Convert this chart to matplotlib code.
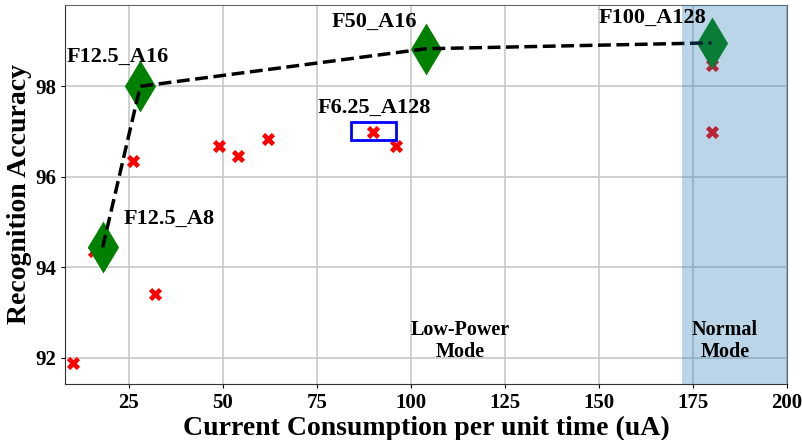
import matplotlib
matplotlib.use("Agg")
import matplotlib.pyplot as plt
from matplotlib.patches import Rectangle

plt.rcParams['font.family'] = ['Liberation Serif', 'DejaVu Serif']
plt.rcParams['font.weight'] = 'bold'

# all configurations (red crosses)
all_x = [10, 15.7, 32, 26, 49, 54, 62, 90, 96, 180, 180]
all_y = [91.88, 94.37, 93.41, 96.34, 96.68, 96.46, 96.83, 97.0, 96.68, 98.48, 97.0]

# pareto front (green diamonds)
best_x = [18, 28, 104, 180]
best_y = [94.44, 98.0, 98.83, 98.96]
best_names = ['F12.5_A8', 'F12.5_A16', 'F50_A16', 'F100_A128']
name_pos = [(23.7, 94.96), (8.5, 98.55), (79, 99.32), (150, 99.41)]

fig, ax = plt.subplots(figsize=(8.03, 4.4), dpi=100)

ax.scatter(all_x, all_y, marker='X', s=90, color='red', zorder=3, linewidths=0)
ax.plot(best_x, best_y, 'k--', lw=2.5, zorder=4)
ax.scatter(best_x, best_y, marker='d', s=700, color='green', zorder=3, linewidths=0)

for name, (tx, ty) in zip(best_names, name_pos):
    ax.text(tx, ty, name, fontsize=16, fontweight='bold', zorder=6)

# highlighted config
ax.add_patch(Rectangle((84, 96.81), 12, 0.4, fill=False, edgecolor='blue', lw=2, zorder=5))
ax.text(75.3, 97.42, 'F6.25_A128', fontsize=16, fontweight='bold', zorder=6)

ax.axvspan(172, 200, color='tab:blue', alpha=0.3, lw=0, zorder=5)
ax.text(113, 92.83, 'Low-Power\nMode', ha='center', va='top', fontsize=14.5,
        fontweight='bold', linespacing=1.1, zorder=6)
ax.text(183.5, 92.83, 'Normal\nMode', ha='center', va='top', fontsize=14.5,
        fontweight='bold', linespacing=1.1, zorder=6)

ax.set_xlim(8, 200)
ax.set_ylim(91.42, 99.8)
ax.set_xticks([25, 50, 75, 100, 125, 150, 175, 200])
ax.set_yticks([92, 94, 96, 98])
ax.grid(True, color='#c8c8c8', lw=1.2)
ax.set_axisbelow(True)
ax.tick_params(labelsize=15, length=3)
for lab in ax.get_xticklabels() + ax.get_yticklabels():
    lab.set_fontweight('bold')
for sp in ['top', 'right']:
    ax.spines[sp].set_color('#666666')
ax.spines['left'].set_color('#333333')
ax.spines['bottom'].set_color('#333333')

ax.set_xlabel('Current Consumption per unit time (uA)', fontsize=20, fontweight='bold', labelpad=2)
ax.set_ylabel('Recognition Accuracy', fontsize=20, fontweight='bold', labelpad=2)

fig.subplots_adjust(left=0.081, right=0.98, top=0.989, bottom=0.127)
fig.savefig('out.png', dpi=100)
